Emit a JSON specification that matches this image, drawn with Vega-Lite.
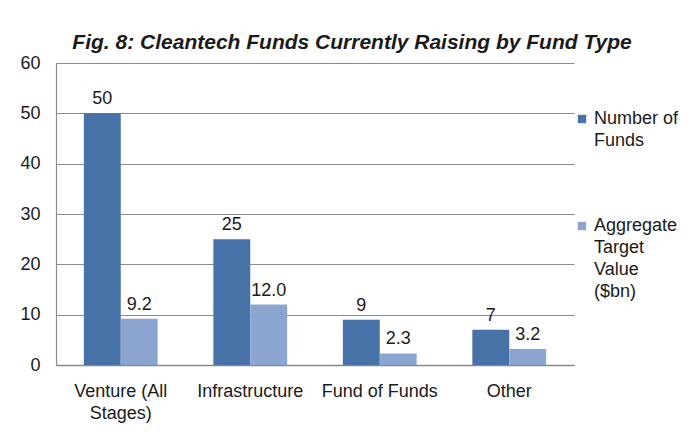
{
  "$schema": "https://vega.github.io/schema/vega-lite/v6.json",
  "width": 518,
  "height": 302,
  "autosize": {"type": "none"},
  "padding": {"left": 56, "top": 63, "right": 117, "bottom": 76},
  "background": "white",
  "title": {
    "text": "Fig. 8: Cleantech Funds Currently Raising by Fund Type",
    "font": "Liberation Sans",
    "fontSize": 21,
    "fontWeight": "bold",
    "fontStyle": "italic",
    "color": "#1a1a1a",
    "anchor": "middle",
    "dx": 37,
    "offset": 1
  },
  "data": {
    "values": [
      {"type": "Venture (All Stages)", "series": "Number of Funds", "value": 50, "label": "50"},
      {"type": "Venture (All Stages)", "series": "Aggregate Target Value ($bn)", "value": 9.2, "label": "9.2"},
      {"type": "Infrastructure", "series": "Number of Funds", "value": 25, "label": "25"},
      {"type": "Infrastructure", "series": "Aggregate Target Value ($bn)", "value": 12.0, "label": "12.0"},
      {"type": "Fund of Funds", "series": "Number of Funds", "value": 9, "label": "9"},
      {"type": "Fund of Funds", "series": "Aggregate Target Value ($bn)", "value": 2.3, "label": "2.3"},
      {"type": "Other", "series": "Number of Funds", "value": 7, "label": "7"},
      {"type": "Other", "series": "Aggregate Target Value ($bn)", "value": 3.2, "label": "3.2"}
    ]
  },
  "encoding": {
    "x": {
      "field": "type",
      "type": "nominal",
      "sort": null,
      "scale": {"paddingInner": 0.43, "paddingOuter": 0.215},
      "axis": {
        "title": null,
        "labelAngle": 0,
        "ticks": false,
        "labelPadding": 17,
        "labelFont": "Liberation Sans",
        "labelFontSize": 18,
        "labelColor": "#1a1a1a",
        "labelLineHeight": 22,
        "domainColor": "#888888",
        "domainWidth": 1.5,
        "labelExpr": "datum.value == 'Venture (All Stages)' ? ['Venture (All', 'Stages)'] : datum.value"
      }
    },
    "xOffset": {"field": "series", "type": "nominal", "sort": ["Number of Funds", "Aggregate Target Value ($bn)"]},
    "y": {
      "field": "value",
      "type": "quantitative",
      "scale": {"domain": [0, 60], "nice": false},
      "axis": {
        "title": null,
        "values": [0, 10, 20, 30, 40, 50, 60],
        "ticks": false,
        "labelPadding": 16,
        "labelFont": "Liberation Sans",
        "labelFontSize": 18,
        "labelColor": "#1a1a1a",
        "gridColor": "#8c8c8c",
        "gridWidth": 1.2,
        "domainColor": "#8c8c8c",
        "domainWidth": 1.2
      }
    }
  },
  "layer": [
    {
      "mark": {"type": "bar"},
      "encoding": {
        "color": {
          "field": "series",
          "type": "nominal",
          "sort": ["Number of Funds", "Aggregate Target Value ($bn)"],
          "scale": {"domain": ["Number of Funds", "Aggregate Target Value ($bn)"], "range": ["#4672A8", "#8BA5D0"]},
          "legend": {
            "title": null,
            "orient": "none",
            "legendX": 517,
            "legendY": 47,
            "symbolType": "square",
            "symbolSize": 70,
            "symbolStrokeWidth": 0,
            "labelFont": "Liberation Sans",
            "labelFontSize": 18,
            "labelColor": "#1a1a1a",
            "labelOffset": 3,
            "labelLimit": 200,
            "rowPadding": 67,
            "labelExpr": "datum.label == 'Number of Funds' ? ['Number of', 'Funds'] : ['Aggregate', 'Target', 'Value', '($bn)']",
            "encode": {"labels": {"update": {"lineHeight": {"value": 22}}}}
          }
        }
      }
    },
    {
      "mark": {"type": "text", "baseline": "alphabetic", "dy": -9, "font": "Liberation Sans", "fontSize": 18, "color": "#1a1a1a"},
      "encoding": {
        "text": {"field": "label"}
      }
    }
  ],
  "config": {
    "view": {"stroke": null}
  }
}
